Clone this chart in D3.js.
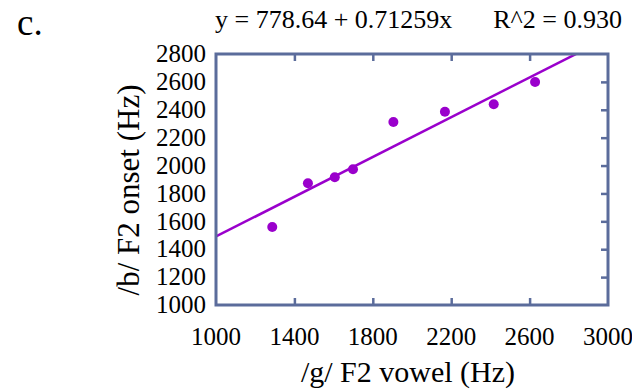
<!DOCTYPE html>
<html>
<head>
<meta charset="utf-8">
<script src="https://cdn.jsdelivr.net/npm/d3@7"></script>
<style>
  body { margin: 0; background: #fff; }
  text { font-family: "Liberation Serif", "Times New Roman", serif; fill: #000; }
</style>
</head>
<body>
<svg width="632" height="390"></svg>
<script>
// data
var f2Vowel = [1287, 1469, 1606, 1699, 1905, 2168, 2417, 2628];
var f2Onset = [1559, 1873, 1916, 1973, 2312, 2386, 2439, 2599];
var fitIntercept = 778.64, fitSlope = 0.71259, rSquared = "0.930";
var xTicks = [1000, 1400, 1800, 2200, 2600, 3000];
var yTicks = [1000, 1200, 1400, 1600, 1800, 2000, 2200, 2400, 2600, 2800];

var svg = d3.select("svg");
var frameCol = "#5b6c9b", purple = "#9a00cc";
// NB: "top" clashes with window.top, so use pL/pR/pT/pB
var pL = 216, pR = 608, pT = 54, pB = 305;

var x = d3.scaleLinear().domain([1000, 3000]).range([pL, pR]);
var y = d3.scaleLinear().domain([1000, 2800]).range([pB, pT]);

svg.append("text").attr("x", 17).attr("y", 35)
    .style("font-size", "37px").text("c.");

svg.append("text").attr("x", 215).attr("y", 28)
    .style("font-size", "26px").text("y = " + fitIntercept + " + " + fitSlope + "x");
svg.append("text").attr("x", 622).attr("y", 28).attr("text-anchor", "end")
    .style("font-size", "26px").text("R^2 = " + rSquared);

svg.append("defs").append("clipPath").attr("id", "clip")
  .append("rect").attr("x", pL).attr("y", pT)
    .attr("width", pR - pL).attr("height", pB - pT);

// regression line
var lineX = [1000, 3000];
svg.append("g").attr("clip-path", "url(#clip)")
  .append("line")
    .attr("x1", x(lineX[0])).attr("y1", y(fitIntercept + fitSlope * lineX[0]))
    .attr("x2", x(lineX[1])).attr("y2", y(fitIntercept + fitSlope * lineX[1]))
    .attr("stroke", purple).attr("stroke-width", 2.5);

svg.append("g").selectAll("circle")
    .data(f2Vowel)
  .enter().append("circle")
    .attr("cx", function(d) { return x(d); })
    .attr("cy", function(d, i) { return y(f2Onset[i]); })
    .attr("r", 5)
    .attr("fill", purple);

// inward ticks: bottom, top, right
var tickLen = 7;
var inner = xTicks.slice(1, -1);
var bAx = svg.append("g").attr("transform", "translate(0," + pB + ")")
    .call(d3.axisTop(x).tickValues(inner).tickSize(tickLen).tickFormat(""));
var tAx = svg.append("g").attr("transform", "translate(0," + pT + ")")
    .call(d3.axisBottom(x).tickValues(inner).tickSize(tickLen).tickFormat(""));
var rAx = svg.append("g").attr("transform", "translate(" + pR + ",0)")
    .call(d3.axisLeft(y).tickValues(yTicks.slice(1, -1)).tickSize(tickLen).tickFormat(""));
[bAx, tAx, rAx].forEach(function(g) {
  g.select(".domain").remove();
  g.selectAll("line").attr("stroke", frameCol).attr("stroke-width", 2.5);
});

svg.append("rect").attr("x", pL).attr("y", pT)
    .attr("width", pR - pL).attr("height", pB - pT)
    .attr("fill", "none").attr("stroke", frameCol).attr("stroke-width", 3);

svg.append("g").selectAll("text")
    .data(xTicks)
  .enter().append("text")
    .attr("x", function(d) { return x(d); })
    .attr("y", 345)
    .attr("text-anchor", "middle")
    .style("font-size", "25px")
    .text(function(d) { return d; });

svg.append("g").selectAll("text")
    .data(yTicks)
  .enter().append("text")
    .attr("x", 206)
    .attr("y", function(d) { return y(d); })
    .attr("dy", "0.33em")
    .attr("text-anchor", "end")
    .style("font-size", "25px")
    .text(function(d) { return d; });

svg.append("text").attr("x", 408).attr("y", 382)
    .attr("text-anchor", "middle").style("font-size", "30px")
    .text("/g/ F2 vowel (Hz)");

svg.append("text")
    .attr("transform", "translate(139,190) rotate(-90)")
    .attr("text-anchor", "middle").style("font-size", "31px")
    .text("/b/ F2 onset (Hz)");
</script>
</body>
</html>
